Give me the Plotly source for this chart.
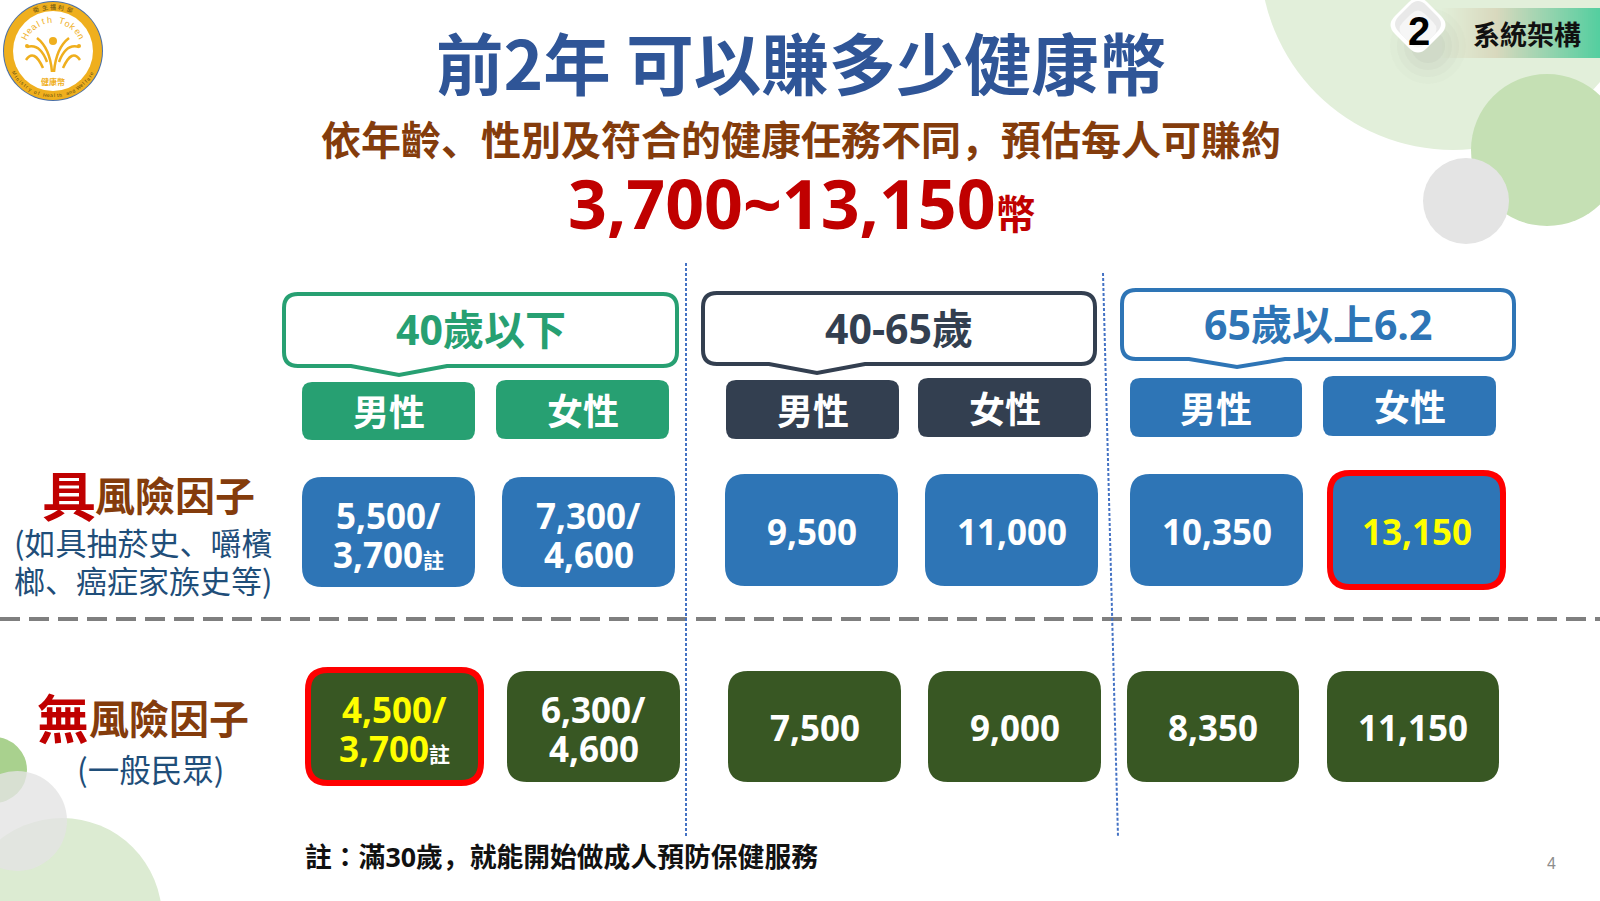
import math
import plotly.graph_objects as go

# values
age_groups = ["40歲以下", "40-65歲", "65歲以上6.2"]
sexes = ["男性", "女性"]
risk_first = [5500, 7300, 9500, 11000, 10350, 13150]
risk_second = [3700, 4600, None, None, None, None]
plain_first = [4500, 6300, 7500, 9000, 8350, 11150]
plain_second = [3700, 4600, None, None, None, None]

# layout of the slide, in pixels
W, H = 1600, 901
CJK = "Noto Sans CJK TC"
NUM = "Open Sans, Noto Sans CJK TC"
PUNCT = '<span style="font-family:Noto Sans CJK JP">%s</span>'
COMMA = PUNCT % "\uff0c"
COLON = PUNCT % "\uff1a"
DUN = PUNCT % "\u3001"
GREEN, NAVY, BLUE, OLIVE = "#27A072", "#333F50", "#2E75B6", "#385723"
BROWN, DARKRED, TITLE, SUBBLUE = "#843C0C", "#C00000", "#2F5597", "#1F4E79"
GOLD = "#EFAF1E"

callouts = [(284, 677, 294, 366, 399, 375), (703, 1095, 293, 364, 817, 373), (1122, 1514, 290, 359, 1237, 367)]
callout_colors = [GREEN, NAVY, BLUE]
pills = [(302, 475, 382, 440), (496, 669, 380, 439), (726, 899, 380, 439),
         (918, 1091, 378, 437), (1130, 1302, 378, 437), (1323, 1496, 376, 436)]
risk_boxes = [(302, 475, 477, 587), (502, 675, 477, 587), (725, 898, 474, 586),
              (925, 1098, 474, 586), (1130, 1303, 474, 586), (1330, 1503, 473, 587)]
plain_boxes = [(308, 481, 670, 783), (507, 680, 671, 782), (728, 901, 671, 782),
               (928, 1101, 671, 782), (1127, 1299, 671, 782), (1327, 1499, 671, 782)]

fig = go.Figure()
shapes = []
notes = []


def rbox(x0, x1, y0, y1, r):
    return (f"M{x0+r},{y0} L{x1-r},{y0} Q{x1},{y0} {x1},{y0+r} L{x1},{y1-r} Q{x1},{y1} {x1-r},{y1} "
            f"L{x0+r},{y1} Q{x0},{y1} {x0},{y1-r} L{x0},{y0+r} Q{x0},{y0} {x0+r},{y0} Z")


def path(d, fill="rgba(0,0,0,0)", line=None, width=0, dash=None):
    shapes.append(dict(type="path", path=d, fillcolor=fill, xref="x", yref="y",
                       line=dict(color=line or "rgba(0,0,0,0)", width=width, dash=dash)))


def circle(cx, cy, r, fill):
    shapes.append(dict(type="circle", x0=cx-r, x1=cx+r, y0=cy-r, y1=cy+r, fillcolor=fill,
                       xref="x", yref="y", line=dict(width=0)))


def label(x, y, text, size, color, family=CJK, weight=700, anchor="center", angle=0):
    notes.append(dict(x=x, y=y, text=text, xref="x", yref="y", showarrow=False, xanchor=anchor,
                      yanchor="middle", textangle=angle, align="center",
                      font=dict(size=size, color=color, family=family, weight=weight)))


def money(v):
    return f"{v:,}"


# background circles
circle(1453, -43, 193, "#E2EFDA")
circle(1547, 150, 76, "#C5E0B4")
circle(1466, 201, 43, "#E4E4E4")
circle(62, 918, 100, "#DCEBD2")
circle(-6, 770, 33, "#A9D18E")
circle(17, 821, 50, "rgba(228,228,228,0.8)")

# section tag top right, drawn as thin strips for the gradient
for i in range(80):
    t = i / 79
    c0 = (226, 239, 218)
    c1 = (217, 217, 190)
    c2 = (85, 207, 160)
    if t < 0.35:
        u = t / 0.35
        rgb = [c0[k] + (c1[k] - c0[k]) * u for k in range(3)]
    else:
        u = (t - 0.35) / 0.65
        rgb = [c1[k] + (c2[k] - c1[k]) * u for k in range(3)]
    shapes.append(dict(type="rect", x0=1440 + i * 2, x1=1442.5 + i * 2, y0=8, y1=58, xref="x", yref="y",
                       fillcolor="rgb(%d,%d,%d)" % tuple(rgb), line=dict(width=0)))
for r, op in [(38, 0.02), (31, 0.03), (24, 0.04), (17, 0.05)]:
    circle(1428, 46, r, f"rgba(90,90,90,{op})")


def diamond(cx, cy, h, rr):
    k = rr / h
    top, right, bot, left = (cx, cy-h), (cx+h, cy), (cx, cy+h), (cx-h, cy)
    pts = [top, right, bot, left]
    d = ""
    for i, p in enumerate(pts):
        prev, nxt = pts[i-1], pts[(i+1) % 4]
        a = (p[0] + (prev[0]-p[0])*k, p[1] + (prev[1]-p[1])*k)
        b = (p[0] + (nxt[0]-p[0])*k, p[1] + (nxt[1]-p[1])*k)
        d += f"{'M' if i == 0 else 'L'}{a[0]},{a[1]} Q{p[0]},{p[1]} {b[0]},{b[1]} "
    return d + "Z"


path(diamond(1418, 25, 32, 9), fill="#FFFFFF")
path(diamond(1418, 24, 27, 8), fill="#E9E9E9")
path(diamond(1418, 29, 22, 7), fill="#F6F6F6")
label(1419, 31, "2", 40, "#000000", family="Liberation Sans")
label(1527, 33, "系統架構", 27, "#111111")

# logo
circle(53, 51, 50, "#4A6FA5")
circle(53, 51, 49, GOLD)
circle(53, 51, 40, "#FFFFFF")
circle(53, 41, 4, GOLD)
for d in ["M37,38 Q50,48 52,72", "M69,38 Q56,48 54,72", "M27,47 Q40,43 47,62", "M79,47 Q66,43 59,62",
          "M26,60 Q34,48 43,68", "M80,60 Q72,48 63,68"]:
    path(d, line=GOLD, width=2.5)
circle(27, 46, 2, GOLD)
circle(79, 46, 2, GOLD)
label(53, 81, "健康幣", 8, GOLD)


def on_arc(text, r, start, end, size, color, below=False):
    for i, ch in enumerate(text):
        a = math.radians(start + (end - start) * i / (len(text) - 1))
        x = 53 + r * math.sin(a)
        y = 51 - r * math.cos(a)
        rot = math.degrees(a) + (180 if below else 0)
        label(x, y, ch, size, color, family="Liberation Sans, " + CJK, weight=400, angle=rot)


on_arc("衛生福利部", 44.5, -22, 22, 6, "#5A4A10")
on_arc("Health Token", 31, -62, 62, 9, GOLD)
on_arc("Ministry of Health and Welfare", 44.5, 240, 120, 5, "#5A4A10", below=True)

# title block
label(801, 60, "前2年 可以賺多少健康幣", 67.5, TITLE)
label(801, 138, "依年齡" + DUN + "性別及符合的健康任務不同" + COMMA + "預估每人可賺約", 40, BROWN)
label(802, 202, '3,700~13,150<span style="font-size:40px">幣</span>', 68, DARKRED, family=NUM)

# separators
path(f"M0,619 L{W},619", line="#7F7F7F", width=4, dash="20px,9px")
path("M686,263 L686,837", line="#4472C4", width=2, dash="3px,2px")
path("M1103,273 L1118,837", line="#4472C4", width=2, dash="3px,2px")

# age group callouts
for name, box, color in zip(age_groups, callouts, callout_colors):
    x0, x1, y0, y1, tx, ty = box
    r = 14
    d = (f"M{x0+r},{y0} L{x1-r},{y0} Q{x1},{y0} {x1},{y0+r} L{x1},{y1-r} Q{x1},{y1} {x1-r},{y1} "
         f"L{tx+48},{y1} L{tx},{ty} L{tx-48},{y1} L{x0+r},{y1} Q{x0},{y1} {x0},{y1-r} L{x0},{y0+r} Q{x0},{y0} {x0+r},{y0} Z")
    path(d, fill="#FFFFFF", line=color, width=4)
    label((x0 + x1) / 2, (y0 + y1) / 2 - 1, name, 41, color, family=NUM)

# sex header pills
for i, box in enumerate(pills):
    x0, x1, y0, y1 = box
    path(rbox(x0, x1, y0, y1, 10), fill=callout_colors[i // 2])
    label((x0 + x1) / 2, (y0 + y1) / 2 - 1, sexes[i % 2], 36, "#FFFFFF")

# row headers
label(40, 493, "具", 54, DARKRED, anchor="left")
label(93, 494, "風險因子", 40, BROWN, anchor="left")
label(143, 541, "(如具抽菸史" + DUN + "嚼檳", 31, SUBBLUE, weight=400)
label(143, 579, "榔" + DUN + "癌症家族史等)", 31, SUBBLUE, weight=400)
label(35, 716, "無", 52, DARKRED, anchor="left")
label(87, 717, "風險因子", 40, BROWN, anchor="left")
label(150, 768, "(一般民眾)", 31.5, SUBBLUE, weight=400)


# value boxes
def value_cell(box, first, second, fill, hot, noted):
    x0, x1, y0, y1 = box
    if hot:
        path(rbox(x0, x1, y0, y1, 20), fill=fill, line="#FF0000", width=6)
    else:
        path(rbox(x0, x1, y0, y1, 20), fill=fill)
    color = "#FFFF00" if hot else "#FFFFFF"
    cx, cy = (x0 + x1) / 2, (y0 + y1) / 2
    if second is None:
        label(cx, cy + 1, money(first), 35, color, family=NUM)
    else:
        label(cx, cy - 17, money(first) + "/", 35, color, family=NUM)
        tail = money(second)
        if noted:
            tail += '<span style="font-size:21px;color:#FFFFFF">註</span>'
        label(cx, cy + 22, tail, 35, color, family=NUM)


for i, box in enumerate(risk_boxes):
    value_cell(box, risk_first[i], risk_second[i], BLUE, i == 5, i == 0)
for i, box in enumerate(plain_boxes):
    value_cell(box, plain_first[i], plain_second[i], OLIVE, i == 0, i == 0)

# footnote and page number
label(303, 855, "註" + COLON + "滿30歲" + COMMA + "就能開始做成人預防保健服務", 26.8, "#111111", family=NUM, anchor="left")
label(1551, 863, "4", 16, "#8C8C8C", family="Liberation Sans", weight=400)

fig.update_layout(
    width=W, height=H, margin=dict(l=0, r=0, t=0, b=0),
    paper_bgcolor="#FFFFFF", plot_bgcolor="#FFFFFF", showlegend=False,
    xaxis=dict(range=[0, W], visible=False, fixedrange=True),
    yaxis=dict(range=[H, 0], visible=False, fixedrange=True),
    shapes=shapes, annotations=notes,
)
fig.write_html("out.html", config={"displayModeBar": False}, post_script="document.body.style.margin='0';")
